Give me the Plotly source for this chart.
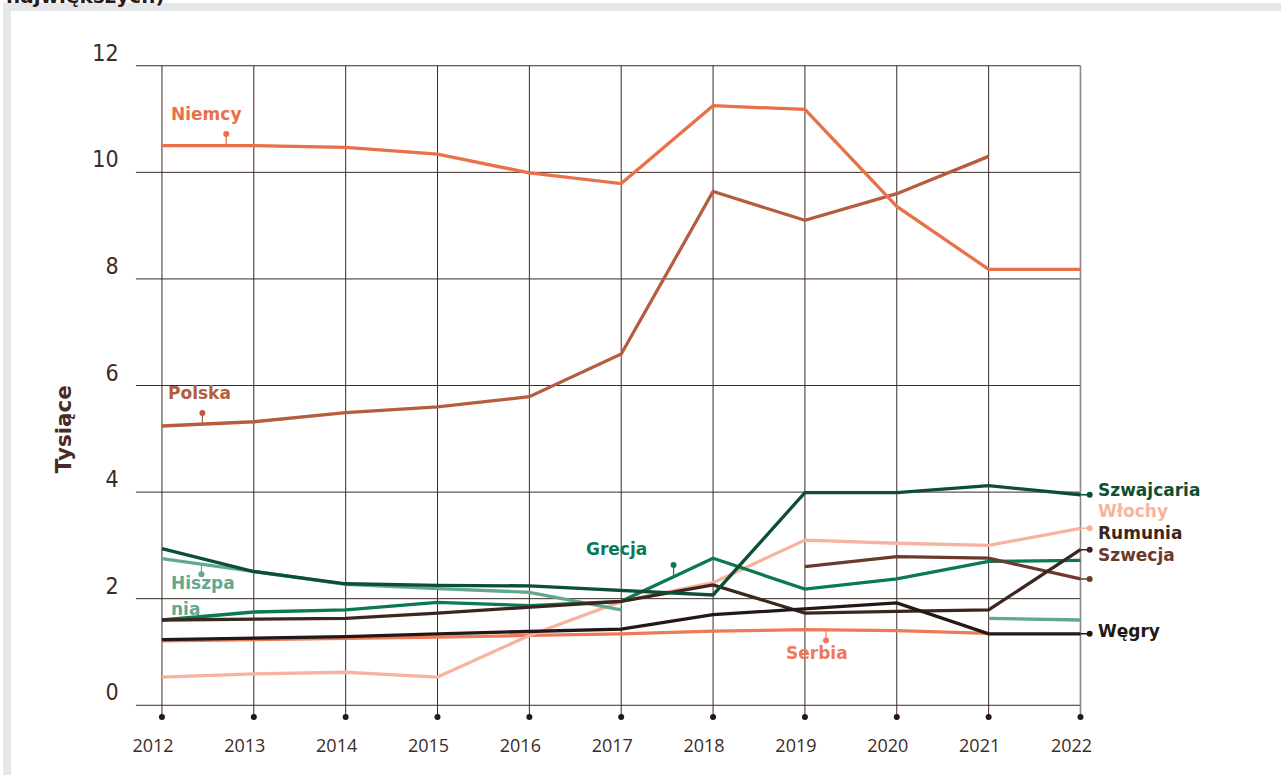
import plotly.graph_objects as go
import numpy as np

# ---------------- data ----------------
years = list(range(2012, 2023))
year_labels = [str(y) for y in years]
y_ticks = [0, 2, 4, 6, 8, 10, 12]

niemcy = [10.50, 10.50, 10.47, 10.34, 9.99, 9.79, 11.25, 11.18, 9.36, 8.18, 8.18]
polska = [5.24, 5.32, 5.49, 5.60, 5.79, 6.59, 9.64, 9.10, 9.60, 10.30, None]
szwajcaria = [2.94, 2.51, 2.28, 2.25, 2.24, 2.15, 2.07, 3.99, 3.99, 4.12, 3.95]
grecja = [1.60, 1.75, 1.79, 1.93, 1.87, 1.95, 2.76, 2.18, 2.37, 2.70, 2.72]
hiszpania = [2.75, 2.51, 2.27, 2.19, 2.12, 1.79, None, None, None, 1.63, 1.60]
wlochy = [0.53, 0.59, 0.62, 0.53, 1.31, 1.95, 2.30, 3.10, 3.04, 3.00, 3.32]
rumunia = [1.60, 1.61, 1.63, 1.73, 1.84, 1.95, 2.26, 1.73, 1.76, 1.79, 2.92]
szwecja = [None, None, None, None, None, None, None, 2.60, 2.79, 2.76, 2.37]
wegry = [1.23, 1.26, 1.29, 1.34, 1.39, 1.43, 1.70, 1.81, 1.92, 1.34, 1.34]
serbia = [1.21, 1.23, 1.26, 1.28, 1.31, 1.34, 1.39, 1.42, 1.40, 1.35, None]

C = {
    "Niemcy": "#E8714A",
    "Polska": "#B65D40",
    "Szwajcaria": "#0D4F35",
    "Grecja": "#0B7A52",
    "Hiszpania": "#62A88F",
    "Włochy": "#F8B3A0",
    "Rumunia": "#3E2620",
    "Szwecja": "#6B3A2C",
    "Węgry": "#231815",
    "Serbia": "#EE7A58",
}

series = [
    ("Serbia", serbia),
    ("Włochy", wlochy),
    ("Hiszpania", hiszpania),
    ("Polska", polska),
    ("Niemcy", niemcy),
    ("Grecja", grecja),
    ("Szwecja", szwecja),
    ("Rumunia", rumunia),
    ("Szwajcaria", szwajcaria),
    ("Węgry", wegry),
]

GRID = "#3A2A25"
TXT = "#3D2B26"
LBL_FONT = "DejaVu Sans"

fig = go.Figure()
for name, vals in series:
    fig.add_trace(go.Scatter(x=years, y=vals, mode="lines", name=name,
                             line=dict(color=C[name], width=3.3),
                             connectgaps=False, showlegend=False, hoverinfo="skip"))

shapes = []
# background frame (grey border of the source page)
shapes.append(dict(type="rect", xref="paper", yref="paper", x0=0, x1=1,
                   y0=1 - 8 / 775, y1=1, fillcolor="#E6E7E8", line_width=0, layer="below"))
shapes.append(dict(type="rect", xref="paper", yref="paper", x0=0, x1=8 / 1281,
                   y0=0, y1=1, fillcolor="#E6E7E8", line_width=0, layer="below"))

# horizontal gridlines
x_left = 2011.714
for v in y_ticks:
    shapes.append(dict(type="line", xref="x", yref="y", x0=x_left, x1=years[-1],
                       y0=v, y1=v, line=dict(color=GRID, width=1), layer="below"))
# vertical gridlines + dots
for yr in years:
    col = "#8E8585" if yr == years[-1] else GRID
    w = 1.6 if yr == years[-1] else 1
    shapes.append(dict(type="line", xref="x", yref="y", x0=yr, x1=yr,
                       y0=-0.22, y1=y_ticks[-1], line=dict(color=col, width=w), layer="below"))
fig.add_trace(go.Scatter(x=years, y=[-0.22] * len(years), mode="markers",
                         marker=dict(color="#231815", size=6), showlegend=False,
                         hoverinfo="skip", cliponaxis=False))

annotations = []

# leader labels inside the chart
def line_at(vals, x):
    xs = [yy for yy, v in zip(years, vals) if v is not None]
    vs = [v for v in vals if v is not None]
    return float(np.interp(x, xs, vs))

leaders = [
    # name, vals, leader x, dot offset, label x, label y, xanchor, text
    ("Niemcy", niemcy, 2012.70, 0.22, 2012.477, 11.09, "center", "Niemcy"),
    ("Polska", polska, 2012.44, 0.21, 2012.41, 5.86, "center", "Polska"),
    ("Hiszpania", hiszpania, 2012.43, -0.19, 2012.073, 2.29, "left", "Hiszpa"),
    ("Grecja", grecja, 2017.57, 0.22, 2016.944, 2.935, "center", "Grecja"),
    ("Serbia", serbia, 2019.23, -0.20, 2019.13, 0.972, "center", "Serbia"),
]
dot_x, dot_y, dot_c = [], [], []
for name, vals, lx, dy, tx, ty, xa, text in leaders:
    base = line_at(vals, lx)
    shapes.append(dict(type="line", xref="x", yref="y", x0=lx, x1=lx, y0=base, y1=base + dy,
                       line=dict(color=C[name], width=1.2)))
    dot_x.append(lx); dot_y.append(base + dy); dot_c.append(C[name])
    annotations.append(dict(x=tx, y=ty, xref="x", yref="y", text=text, showarrow=False,
                            xanchor=xa, yanchor="middle",
                            font=dict(family=LBL_FONT, size=17, color=C[name], weight="bold")))
annotations.append(dict(x=2012.073, y=1.80, xref="x", yref="y", text="nia", showarrow=False,
                        xanchor="left", yanchor="middle",
                        font=dict(family=LBL_FONT, size=17, color=C["Hiszpania"], weight="bold")))

# right-end labels
end_pts = [("Szwajcaria", szwajcaria), ("Włochy", wlochy), ("Rumunia", rumunia),
           ("Szwecja", szwecja), ("Węgry", wegry)]
label_y = {"Szwajcaria": 4.04, "Włochy": 3.65, "Rumunia": 3.24, "Szwecja": 2.82, "Węgry": 1.39}
for name, vals in end_pts:
    v = vals[-1]
    shapes.append(dict(type="line", xref="x", yref="y", x0=years[-1], x1=years[-1] + 0.1,
                       y0=v, y1=v, line=dict(color=C[name], width=1.5)))
    dot_x.append(years[-1] + 0.1); dot_y.append(v); dot_c.append(C[name])
    annotations.append(dict(x=years[-1] + 0.17, y=label_y[name], xref="x", yref="y", text=name,
                            showarrow=False, xanchor="left", yanchor="middle",
                            font=dict(family=LBL_FONT, size=17, color=C[name], weight="bold")))

fig.add_trace(go.Scatter(x=dot_x, y=dot_y, mode="markers",
                         marker=dict(color=dot_c, size=6), showlegend=False,
                         hoverinfo="skip", cliponaxis=False))

# y-axis title
annotations.append(dict(x=60 / 1281, y=1 - 428 / 775, xref="paper", yref="paper", text="Tysiące",
                        showarrow=False, textangle=-90, xanchor="center", yanchor="middle",
                        font=dict(family=LBL_FONT, size=21.5, color="#4A2A22", weight="bold")))
# cut-off heading of the source page
annotations.append(dict(x=2 / 1281, y=1 - 6 / 775, xref="paper", yref="paper",
                        text="największych)", showarrow=False, xanchor="left", yanchor="bottom",
                        borderpad=0,
                        font=dict(family=LBL_FONT, size=20, color="#2A1A17", weight="bold")))

fig.update_layout(
    width=1281, height=775, autosize=False,
    margin=dict(l=0, r=0, t=0, b=0),
    paper_bgcolor="white", plot_bgcolor="white",
    shapes=shapes, annotations=annotations,
    xaxis=dict(domain=[133 / 1281, 1], range=[x_left, 2024.1831],
               tickmode="array", tickvals=years, ticktext=year_labels,
               showgrid=False, zeroline=False, showline=False, ticks="",
               ticklabelshift=-9, ticklabelstandoff=8,
               tickfont=dict(family="Open Sans", size=18, color=TXT)),
    yaxis=dict(domain=[1 - 725 / 775, 1 - 40 / 775], range=[-0.3738, 12.4299],
               tickmode="array", tickvals=y_ticks, ticktext=[str(v) for v in y_ticks],
               showgrid=False, zeroline=False, showline=False, ticks="",
               ticklabelshift=-13, ticklabelstandoff=16,
               tickfont=dict(family="Liberation Sans Narrow, DejaVu Sans Condensed, Open Sans",
                             size=23, color=TXT)),
)

fig.write_html("out.html",
               config={"displayModeBar": False, "responsive": False},
               post_script="document.body.style.margin='0px';"
                           "document.body.style.overflow='hidden';")
